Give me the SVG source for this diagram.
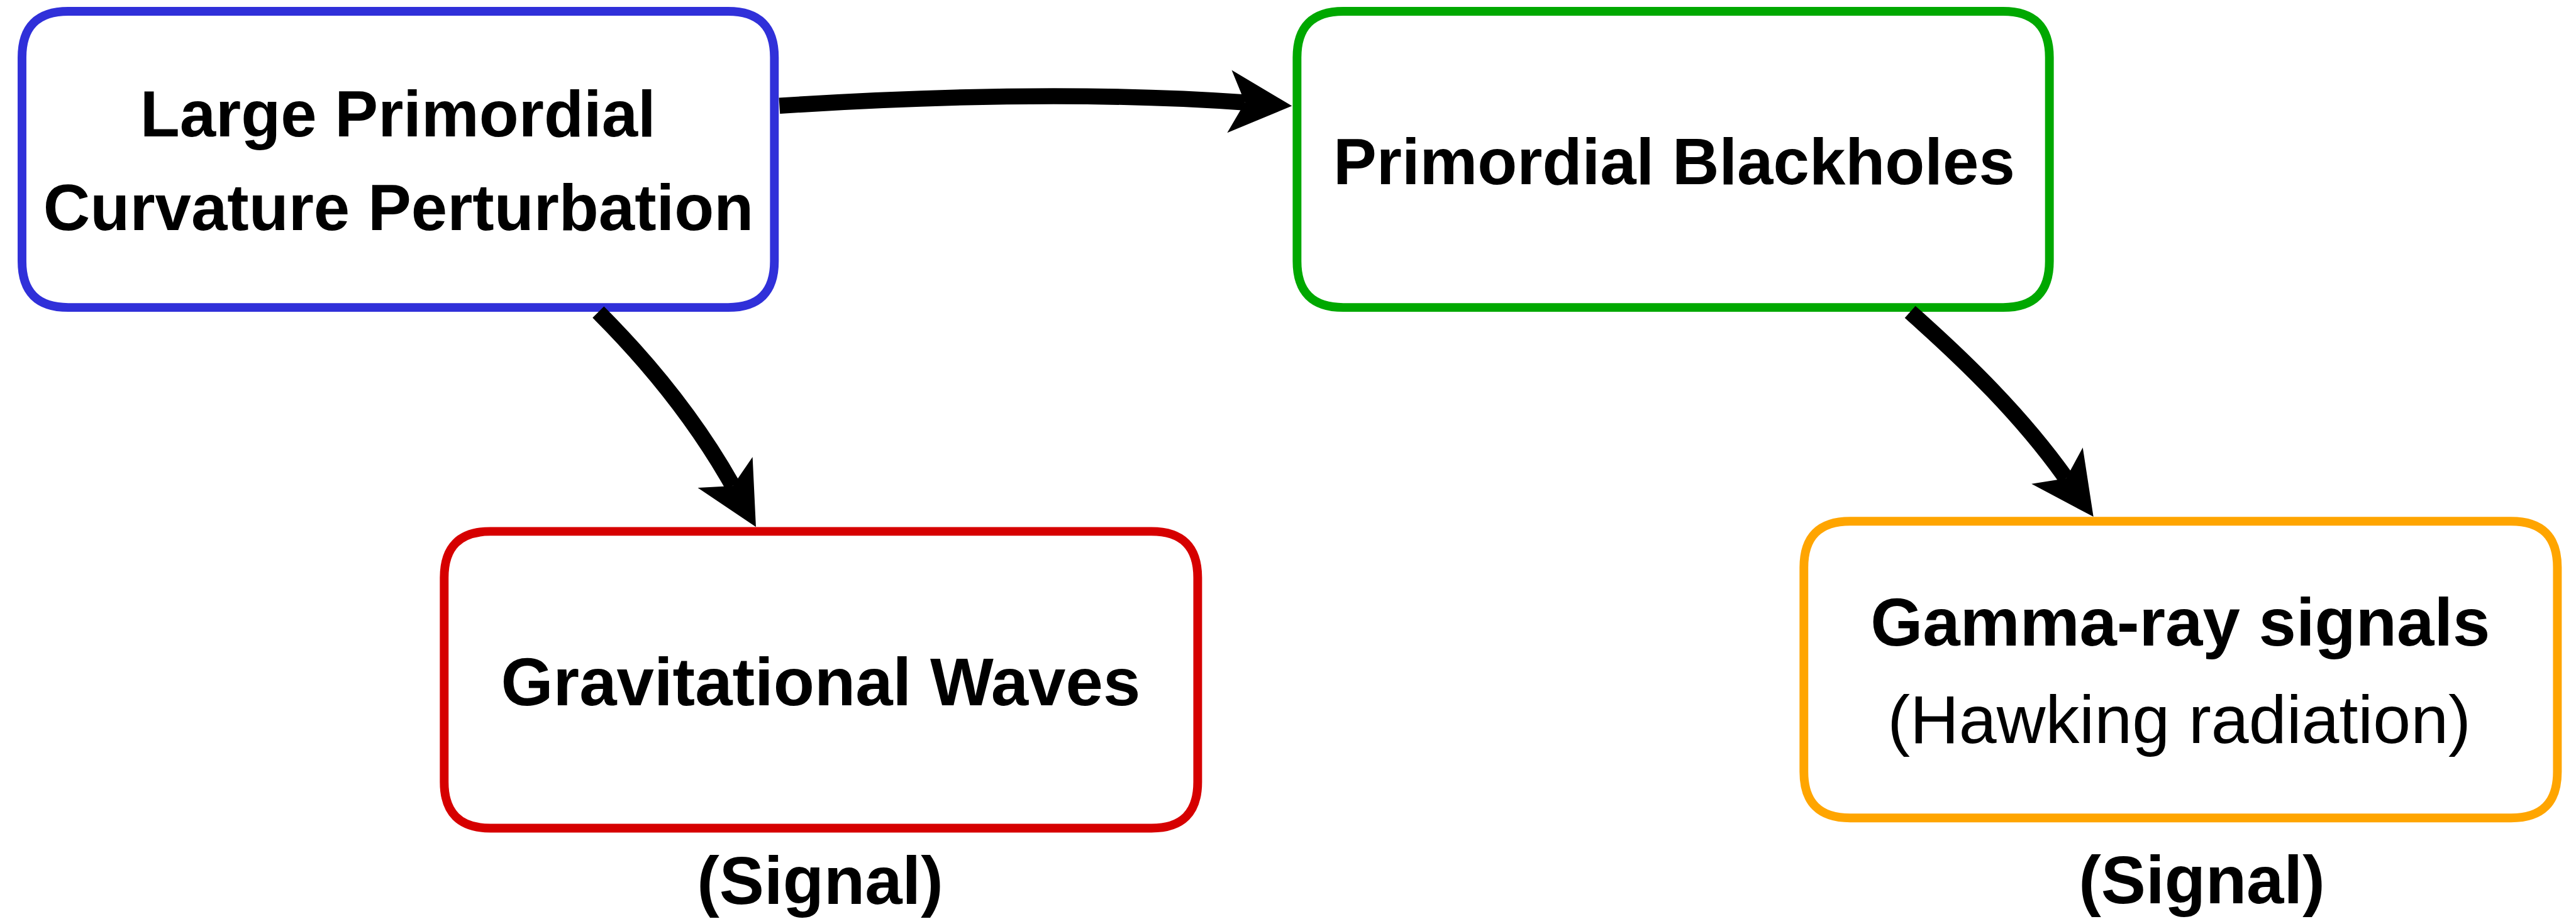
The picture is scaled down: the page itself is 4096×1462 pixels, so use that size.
<svg xmlns="http://www.w3.org/2000/svg" xmlns:xlink="http://www.w3.org/1999/xlink" width="4096" height="1462" viewBox="0 0 4096 1462">
  <style>
    .box { fill: #ffffff; stroke-width: 15.5; stroke-linejoin: round; }
    .blue { stroke: #3030d9; }
    .green { stroke: #00a800; }
    .red { stroke: #d60000; }
    .orange { stroke: #ffa500; }
    .label { font-family: "Liberation Sans", Arial, Helvetica, sans-serif; font-weight: bold; fill: #000000; text-anchor: middle; }
    .top { font-size: 115px; }
    .bottom { font-size: 119px; }
    .sub { font-weight: normal; font-size: 120px; }
    .wire { fill: none; stroke: #000000; stroke-width: 28.5; stroke-linecap: butt; }
    .head { fill: #000000; stroke: none; }
  </style>
  <defs>
    <!-- classic notched arrowhead, tip at the origin, pointing along +x -->
    <path id="arrowhead" d="M0,0 L-111,-55.7 L-83.5,0 L-111,55.7 Z"/>
  </defs>
  <rect x="0" y="0" width="4096" height="1462" fill="#ffffff"/>
  <g transform="scale(0.89746)">
    <!-- rounded boxes use quadratic corners (r = 82) -->
    <g id="node-curvature">
      <path class="box blue" d="M121,20 H1290 Q1372,20 1372,102 V463 Q1372,545 1290,545 H121 Q39,545 39,463 V102 Q39,20 121,20 Z"/>
      <text class="label top" x="705" y="242">Large Primordial</text>
      <text class="label top" x="706" y="408">Curvature Perturbation</text>
    </g>
    <g id="node-blackholes">
      <path class="box green" d="M2380,20 H3549 Q3631,20 3631,102 V463 Q3631,545 3549,545 H2380 Q2298,545 2298,463 V102 Q2298,20 2380,20 Z"/>
      <text class="label top" x="2966" y="326">Primordial Blackholes</text>
    </g>
    <g id="node-gw">
      <path class="box red" d="M869,942 H2040 Q2122,942 2122,1024 V1386 Q2122,1468 2040,1468 H869 Q787,1468 787,1386 V1024 Q787,942 869,942 Z"/>
      <text class="label bottom" x="1454" y="1250">Gravitational Waves</text>
      <text class="label bottom" x="1453" y="1602">(Signal)</text>
    </g>
    <g id="node-gamma">
      <path class="box orange" d="M3278,924 H4449 Q4531,924 4531,1006 V1368 Q4531,1450 4449,1450 H3278 Q3196,1450 3196,1368 V1006 Q3196,924 3278,924 Z"/>
      <text class="label bottom" x="3863" y="1144">Gamma-ray signals</text>
      <text class="label sub" x="3861" y="1317">(Hawking radiation)</text>
      <text class="label bottom" x="3901" y="1601">(Signal)</text>
    </g>
    <g id="connectors">
      <path class="wire" d="M1381,187.5 Q1855.5,156.7 2205.7,181.7"/>
      <use xlink:href="#arrowhead" class="head" transform="translate(2289,187.7) rotate(4.09)"/>
      <path class="wire" d="M1060,553.3 C1151.9,645.2 1234.5,747.9 1298.3,861.2"/>
      <use xlink:href="#arrowhead" class="head" transform="translate(1339.3,934) rotate(60.6)"/>
      <path class="wire" d="M3384.2,553 C3485.2,642.6 3582.4,737.9 3660.6,847.9"/>
      <use xlink:href="#arrowhead" class="head" transform="translate(3709,916) rotate(54.6)"/>
    </g>
  </g>
</svg>
